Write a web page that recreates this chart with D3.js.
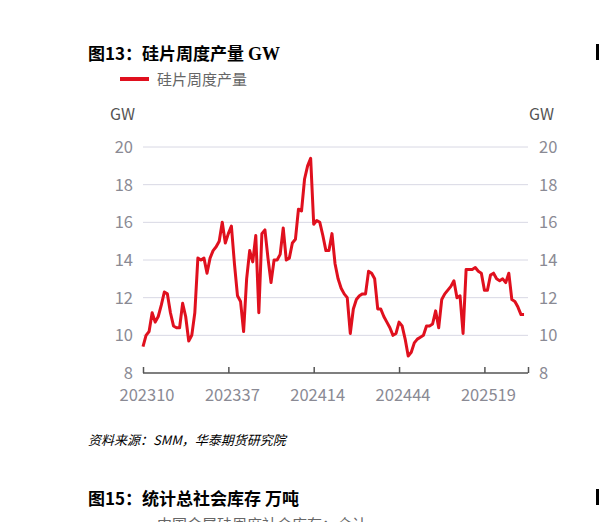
<!DOCTYPE html>
<html>
<head>
<meta charset="utf-8">
<script src="https://d3js.org/d3.v7.min.js"></script>
<style>
  body { margin: 0; background: #fff; }
  text { font-family: "Noto Sans CJK SC", "Noto Sans", sans-serif; }
</style>
</head>
<body>
<svg id="chart" width="599" height="522"></svg>
<script>
  // weekly wafer output, GW
  let values = [9.4,10.0,10.2,11.2,10.7,11.0,11.6,12.3,12.2,11.2,10.5,10.4,10.4,11.7,11.0,9.7,10.0,11.2,14.1,14.0,
    14.1,13.3,14.1,14.5,14.7,15.0,16.0,14.9,15.4,15.8,13.8,12.1,11.8,10.2,13.0,14.5,13.9,15.3,11.2,15.4,
    15.6,14.1,12.8,14.0,14.0,14.3,15.7,14.0,14.1,14.9,15.1,16.7,16.6,18.3,19.0,19.4,15.9,16.1,16.0,15.3,
    14.5,14.5,15.4,13.8,13.0,12.5,12.2,12.0,10.1,11.4,11.9,12.1,12.2,12.2,13.4,13.3,13.0,11.4,11.4,11.0,
    10.7,10.4,10.0,10.1,10.7,10.5,9.8,8.9,9.1,9.6,9.8,9.9,10.0,10.5,10.5,10.6,11.3,10.4,11.9,12.2,
    12.4,12.6,12.9,12.0,12.1,10.1,13.5,13.5,13.5,13.6,13.4,13.3,12.4,12.4,13.2,13.3,13.0,12.9,13.0,12.8,
    13.3,11.9,11.8,11.5,11.1,11.1];
  let tickLabels = ["202310", "202337", "202414", "202444", "202519"];
  let tickIndex = [0, 28, 56, 84, 112];
  let yTicks = [8, 10, 12, 14, 16, 18, 20];

  let svg = d3.select("#chart");
  let x = d3.scaleLinear().domain([0, 126.3]).range([143, 528]);
  let y = d3.scaleLinear().domain([8, 20]).range([373, 147]);
  let grey = "#8a8a94";

  // title + legend
  let title = svg.append("text").attr("x", 88).attr("y", 60).attr("font-size", 17).attr("font-weight", "bold")
    .attr("fill", "#000");
  title.append("tspan").text("图13：硅片周度产量 ");
  title.append("tspan").attr("font-family", "'Liberation Serif', serif").attr("font-size", 18).text("GW");
  svg.append("line").attr("x1", 120).attr("x2", 149).attr("y1", 79).attr("y2", 79)
    .attr("stroke", "#e0101e").attr("stroke-width", 4);
  svg.append("text").attr("x", 157).attr("y", 85).attr("font-size", 15).attr("fill", "#666").text("硅片周度产量");

  // grid
  svg.append("g").selectAll("line").data(yTicks.filter(d => d > 8)).join("line")
    .attr("x1", 143).attr("x2", 528).attr("y1", d => y(d)).attr("y2", d => y(d))
    .attr("stroke", "#d8d8e4").attr("stroke-width", 1);

  // y labels both sides
  svg.append("g").selectAll("text").data(yTicks).join("text")
    .attr("x", 133).attr("y", d => y(d) + 6).attr("text-anchor", "end")
    .attr("font-size", 16.5).attr("fill", grey).text(d => d);
  svg.append("g").selectAll("text").data(yTicks).join("text")
    .attr("x", 539).attr("y", d => y(d) + 6)
    .attr("font-size", 16.5).attr("fill", grey).text(d => d);
  svg.append("text").attr("x", 110).attr("y", 120).attr("font-size", 16).attr("fill", "#555").text("GW");
  svg.append("text").attr("x", 529).attr("y", 120).attr("font-size", 16).attr("fill", "#555").text("GW");

  // x axis
  let xAxis = d3.axisBottom(x).tickValues(tickIndex.concat([126.3])).tickSize(-6).tickFormat("");
  let gx = svg.append("g").attr("transform", "translate(0,373)").call(xAxis);
  gx.select(".domain").attr("stroke", "#555").attr("stroke-width", 1.5).attr("d", "M143,0H528");
  gx.selectAll(".tick line").attr("stroke", "#555").attr("stroke-width", 1.5);
  svg.append("g").selectAll("text").data(tickIndex).join("text")
    .attr("x", (d, i) => x(d) + 4).attr("y", 401).attr("text-anchor", "middle")
    .attr("font-size", 16.5).attr("fill", grey).text((d, i) => tickLabels[i]);

  // line
  svg.append("path").datum(values)
    .attr("d", d3.line().x((d, i) => x(i)).y(d => y(d)))
    .attr("fill", "none").attr("stroke", "#e0101e").attr("stroke-width", 3).attr("stroke-linejoin", "round");

  // footer
  svg.append("text").attr("x", 88).attr("y", 445).attr("font-size", 13).attr("font-style", "italic")
    .attr("fill", "#000").attr("font-family", "'Liberation Serif', 'Noto Sans CJK SC', serif").text("资料来源：SMM，华泰期货研究院");
  svg.append("text").attr("x", 88).attr("y", 505).attr("font-size", 17).attr("font-weight", "bold")
    .attr("fill", "#000").text("图15：统计总社会库存 万吨");
  svg.append("text").attr("x", 157).attr("y", 530).attr("font-size", 15).attr("fill", "#666").text("中国金属硅周度社会库存：合计");
  svg.append("rect").attr("x", 596).attr("y", 44).attr("width", 3).attr("height", 16).attr("fill", "#000");
  svg.append("rect").attr("x", 596).attr("y", 489).attr("width", 3).attr("height", 16).attr("fill", "#000");
</script>
</body>
</html>
